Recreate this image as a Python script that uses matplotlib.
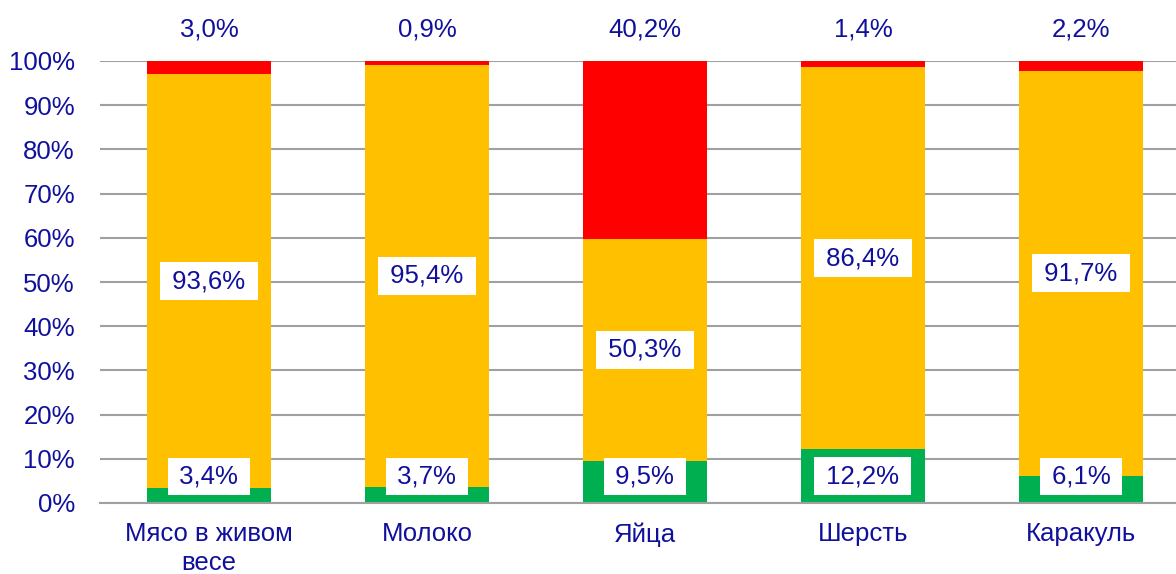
import matplotlib
matplotlib.use("Agg")
import matplotlib.pyplot as plt
import numpy as np

categories = ["Мясо в живом\nвесе", "Молоко", "Яйца", "Шерсть", "Каракуль"]
green_vals = [3.4, 3.7, 9.5, 12.2, 6.1]
orange_vals = [93.6, 95.4, 50.3, 86.4, 91.7]
red_vals = [3.0, 0.9, 40.2, 1.4, 2.2]
yticks = [0, 10, 20, 30, 40, 50, 60, 70, 80, 90, 100]

GREEN = "#00B050"
ORANGE = "#FFC000"
RED = "#FF0000"
TXT = "#10109C"
GRID = "#A0A0A0"

def fmt(v):
    return f"{v:.1f}".replace(".", ",") + "%"

plt.rcParams["font.family"] = ["Liberation Sans", "DejaVu Sans"]

fig = plt.figure(figsize=(11.76, 5.74), dpi=100)
ax = fig.add_axes([100 / 1176, 1 - 503 / 574, 1 - 100 / 1176, (503 - 61) / 574])

x = np.arange(len(categories))
w = 0.573
g = np.array(green_vals)
o = np.array(orange_vals)
r = np.array(red_vals)

ax.bar(x, g, w, color=GREEN, zorder=2)
ax.bar(x, o, w, bottom=g, color=ORANGE, zorder=2)
ax.bar(x, r, w, bottom=g + o, color=RED, zorder=2)

box = dict(facecolor="white", edgecolor="none", pad=5)
sp = "\u2009"
for i in range(len(categories)):
    ax.text(x[i], max(g[i] / 2, 6.0), sp + fmt(g[i]) + sp, ha="center", va="center",
            fontsize=18.5, color=TXT, bbox=box, zorder=3)
    ax.text(x[i], g[i] + o[i] / 2, sp + fmt(o[i]) + sp, ha="center", va="center",
            fontsize=18.5, color=TXT, bbox=box, zorder=3)
    ax.text(x[i], 107.2, fmt(r[i]), ha="center", va="center",
            fontsize=18.5, color=TXT, zorder=3, clip_on=False)

ax.set_xlim(-0.5, 4.5 - 14 / 218)
ax.set_ylim(0, 100)
ax.set_yticks(yticks)
ax.set_yticklabels([f"{t}%" for t in yticks])
ax.set_xticks(x)
ax.set_xticklabels(categories)
ax.tick_params(axis="y", length=0, pad=18, labelsize=18.5, labelcolor=TXT)
ax.tick_params(axis="x", length=0, pad=14, labelsize=18.5, labelcolor=TXT)
for lab in ax.get_xticklabels():
    lab.set_linespacing(1.22)

ax.yaxis.grid(True, color=GRID, linewidth=1.5, zorder=0)
ax.set_axisbelow(True)
for s in ["left", "right", "top"]:
    ax.spines[s].set_visible(False)
ax.spines["bottom"].set_color(GRID)
ax.spines["bottom"].set_linewidth(1.5)

fig.savefig("out.png", dpi=100)
